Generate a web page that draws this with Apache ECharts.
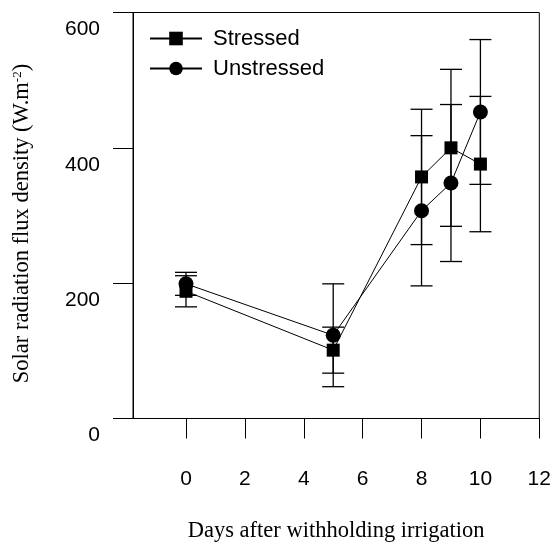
<!DOCTYPE html>
<html>
<head>
<meta charset="utf-8">
<script src="https://cdn.jsdelivr.net/npm/echarts@6/dist/echarts.min.js"></script>
<style>
  html, body { margin: 0; padding: 0; background: #fff; }
  #chart { width: 553px; height: 542px; }
</style>
</head>
<body>
<div id="chart"></div>
<script>
// ---- data ----
var days = [0, 5, 8, 9, 10];
var stressed = [188, 101, 357, 400, 376];
var stressedErr = [23, 34, 100, 116, 100];
var unstressed = [199, 123, 307, 348, 453];
var unstressedErr = [17, 76, 111, 116, 107];
var xTicks = [0, 2, 4, 6, 8, 10, 12];
var yTicks = [0, 200, 400, 600];
var seriesNames = ['Stressed', 'Unstressed'];

function pairs(xs, ys) {
  return xs.map(function (x, i) { return [x, ys[i]]; });
}
function errData(xs, ys, es) {
  return xs.map(function (x, i) { return [x, ys[i] - es[i], ys[i] + es[i]]; });
}
function errRender(params, api) {
  var x = api.value(0);
  var lo = api.coord([x, api.value(1)]);
  var hi = api.coord([x, api.value(2)]);
  var hw = 11;
  var style = { stroke: '#000', lineWidth: 1.3, fill: null };
  return {
    type: 'group',
    children: [
      { type: 'line', shape: { x1: lo[0], y1: lo[1], x2: hi[0], y2: hi[1] }, style: style },
      { type: 'line', shape: { x1: lo[0] - hw, y1: lo[1], x2: lo[0] + hw, y2: lo[1] }, style: style },
      { type: 'line', shape: { x1: hi[0] - hw, y1: hi[1], x2: hi[0] + hw, y2: hi[1] }, style: style }
    ]
  };
}

var sans = 'Liberation Sans, Arial, sans-serif';
var serif = 'Liberation Serif, Times New Roman, serif';

var chart = echarts.init(document.getElementById('chart'), null, { renderer: 'canvas' });
chart.setOption({
  animation: false,
  backgroundColor: '#fff',
  grid: {
    left: 133, top: 12.5, right: 13.7, bottom: 123.5,
    outerBoundsMode: 'none', containLabel: false,
    show: true, borderColor: '#000', borderWidth: 1, backgroundColor: 'transparent'
  },
  legend: {
    orient: 'vertical',
    left: 149, top: 27.5, padding: 0,
    itemWidth: 52, itemHeight: 17, itemGap: 8,
    data: seriesNames,
    textStyle: { fontFamily: sans, fontSize: 22, color: '#000', padding: [0, 0, 0, 6] }
  },
  xAxis: {
    type: 'value', min: -1.8, max: 12,
    name: 'Days after withholding irrigation',
    nameLocation: 'middle', nameGap: 101,
    nameTextStyle: { fontFamily: serif, fontSize: 22.5, color: '#000' },
    splitLine: { show: false },
    axisLine: { show: true, onZero: false, lineStyle: { color: '#000', width: 1 } },
    axisTick: { show: true, length: 20, inside: false, customValues: xTicks, lineStyle: { color: '#000', width: 1 } },
    axisLabel: { customValues: xTicks, margin: 50, fontFamily: sans, fontSize: 21, color: '#000' }
  },
  yAxis: {
    type: 'value', min: 0, max: 600,
    name: 'Solar radiation flux density (W.m{sup|-2})',
    nameLocation: 'middle', nameGap: 99,
    nameTextStyle: {
      fontFamily: serif, fontSize: 22.5, color: '#000', padding: [0, 16, 0, 0],
      rich: { sup: { fontFamily: serif, fontSize: 13, color: '#000', verticalAlign: 'top', padding: [0, 0, 10, 0] } }
    },
    splitLine: { show: false },
    axisLine: { show: true, onZero: false, lineStyle: { color: '#000', width: 1 } },
    axisTick: { show: true, length: 20, inside: false, customValues: yTicks, lineStyle: { color: '#000', width: 1 } },
    axisLabel: { customValues: yTicks, margin: 33, verticalAlign: 'top', lineHeight: 34, fontFamily: sans, fontSize: 21, color: '#000' }
  },
  series: [
    {
      type: 'custom', name: 'errS', renderItem: errRender, data: errData(days, stressed, stressedErr),
      encode: { x: 0, y: [1, 2] }, z: 1, silent: true
    },
    {
      type: 'custom', name: 'errU', renderItem: errRender, data: errData(days, unstressed, unstressedErr),
      encode: { x: 0, y: [1, 2] }, z: 1, silent: true
    },
    {
      type: 'line', name: seriesNames[0], data: pairs(days, stressed),
      symbol: 'rect', symbolSize: 13, showAllSymbol: true,
      lineStyle: { color: '#000', width: 1 },
      itemStyle: { color: '#000', borderWidth: 0 }, z: 3
    },
    {
      type: 'line', name: seriesNames[1], data: pairs(days, unstressed),
      symbol: 'circle', symbolSize: 15, showAllSymbol: true,
      lineStyle: { color: '#000', width: 1 },
      itemStyle: { color: '#000', borderWidth: 0 }, z: 3
    }
  ]
});
</script>
</body>
</html>
